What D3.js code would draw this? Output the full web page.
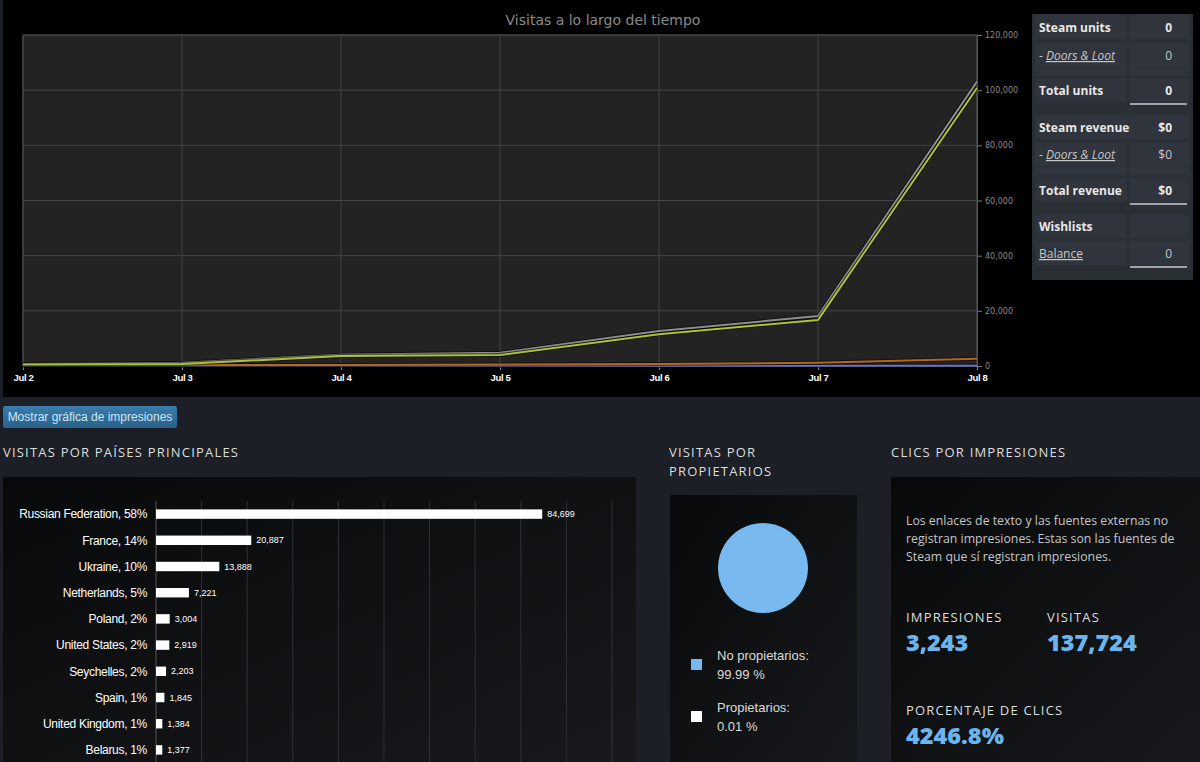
<!DOCTYPE html>
<html>
<head>
<meta charset="utf-8">
<script src="https://cdn.jsdelivr.net/npm/d3@7"></script>
<style>
  html, body { margin: 0; padding: 0; background: #1c1f25; }
  svg { display: block; }
</style>
</head>
<body>
<div id="chart"></div>
<script>
// --- data -------------------------------------------------------------
const days = ['Jul 2', 'Jul 3', 'Jul 4', 'Jul 5', 'Jul 6', 'Jul 7', 'Jul 8']
const yTicks = [0, 20000, 40000, 60000, 80000, 100000, 120000]
const visitsTotal = [700, 1200, 4100, 4800, 12700, 18100, 103100]
const visitsSteam = [500, 700, 3600, 4000, 11500, 16700, 100800]
const visitsOther = [400, 400, 400, 500, 700, 1200, 2600]
const visitsOwners = [50, 50, 50, 50, 50, 50, 100]

const countries = ['Russian Federation', 'France', 'Ukraine', 'Netherlands', 'Poland',
  'United States', 'Seychelles', 'Spain', 'United Kingdom', 'Belarus']
const countryPct = [58, 14, 10, 5, 2, 2, 2, 1, 1, 1]
const countryVisits = [84699, 20887, 13888, 7221, 3004, 2919, 2203, 1845, 1384, 1377]

const ownerLabels = ['No propietarios:', 'Propietarios:']
const ownerPct = [99.99, 0.01]

const tableRows = [
  ['Steam units', '0'], ['- Doors & Loot', '0'], ['', ''], ['Total units', '0'],
  ['Steam revenue', '$0'], ['- Doors & Loot', '$0'], ['', ''], ['Total revenue', '$0'],
  ['Wishlists', ''], ['Balance', '0']
]

const impressions = 3243
const visits = 137724

// --- page ---------------------------------------------------------------
const W = 1200, H = 762
const svg = d3.select('#chart').append('svg').attr('width', W).attr('height', H)
const defs = svg.append('defs')

let g1 = defs.append('linearGradient').attr('id', 'panel').attr('x1', 0).attr('y1', 0).attr('x2', 1).attr('y2', 1)
g1.append('stop').attr('offset', 0).attr('stop-color', '#08090a')
g1.append('stop').attr('offset', 1).attr('stop-color', '#17191c')
let g2 = defs.append('linearGradient').attr('id', 'btn').attr('x1', 0).attr('y1', 0).attr('x2', 0).attr('y2', 1)
g2.append('stop').attr('offset', 0).attr('stop-color', '#3a7cab')
g2.append('stop').attr('offset', 1).attr('stop-color', '#2a6189')

svg.append('rect').attr('width', W).attr('height', H).attr('fill', '#1c1f25')
svg.append('rect').attr('x', 3).attr('y', 0).attr('width', W - 3).attr('height', 397).attr('fill', '#000')

// --- line chart -------------------------------------------------------
const x = d3.scalePoint().domain(days).range([23, 977])
const y = d3.scaleLinear().domain([0, 120000]).range([366, 35])

svg.append('rect').attr('x', 23).attr('y', 35).attr('width', 954).attr('height', 331)
  .attr('fill', '#232323').attr('stroke', '#505050')

svg.append('g').selectAll('line').data(yTicks).join('line')
  .attr('x1', 23).attr('x2', 977).attr('y1', d => y(d)).attr('y2', d => y(d))
  .attr('stroke', '#454545')
svg.append('g').selectAll('line').data(days).join('line')
  .attr('x1', d => x(d)).attr('x2', d => x(d)).attr('y1', 35).attr('y2', 366)
  .attr('stroke', '#454545')

const yAxis = svg.append('g').attr('transform', 'translate(977,0)')
  .call(d3.axisRight(y).tickValues(yTicks).tickSize(5).tickFormat(d3.format(',')))
yAxis.select('.domain').attr('stroke', '#555')
yAxis.selectAll('line').attr('stroke', '#777')
yAxis.selectAll('text').attr('fill', '#8a8a8a').attr('font-size', 8)
  .attr('font-family', 'Verdana, DejaVu Sans, sans-serif').attr('x', 8)

const xAxis = svg.append('g').attr('transform', 'translate(0,366)')
  .call(d3.axisBottom(x).tickSize(4))
xAxis.select('.domain').remove()
xAxis.selectAll('line').attr('stroke', '#888')
xAxis.selectAll('text').attr('fill', '#fff').attr('font-size', 9.5).attr('font-weight', 'bold')
  .attr('letter-spacing', -0.3)
  .attr('font-family', 'Liberation Sans, Arial, sans-serif').attr('dy', '0.85em')

svg.append('text').attr('x', 603).attr('y', 25).attr('text-anchor', 'middle')
  .attr('fill', '#8a8a8a').attr('font-size', 14)
  .attr('font-family', 'DejaVu Sans, sans-serif')
  .text('Visitas a lo largo del tiempo')

const line = d3.line().x((d, i) => x(days[i])).y(d => y(d))
const series = [
  [visitsOwners, '#6b74c9'],
  [visitsOther, '#b8661c'],
  [visitsTotal, '#8d8d8d'],
  [visitsSteam, '#a9c52f']
]
series.forEach(([vals, col]) => {
  svg.append('path').datum(vals).attr('d', line).attr('fill', 'none')
    .attr('stroke', '#000').attr('stroke-opacity', 0.5).attr('stroke-width', 4)
  svg.append('path').datum(vals).attr('d', line).attr('fill', 'none')
    .attr('stroke', col).attr('stroke-width', 2)
})

// --- summary table ------------------------------------------------------
const tbl = svg.append('g')
tbl.append('rect').attr('x', 1032).attr('y', 14).attr('width', 161).attr('height', 266).attr('fill', '#2a2e35')
const rowY = [28, 56, 73, 91, 128, 155, 172, 191, 227, 254]
const rowH = [24, 24, 8, 24, 24, 24, 8, 24, 24, 24]
tableRows.forEach((r, i) => {
  tbl.append('rect').attr('x', 1035).attr('y', rowY[i] - rowH[i] / 2 - 1).attr('width', 92).attr('height', rowH[i])
    .attr('fill', '#30343c')
  tbl.append('rect').attr('x', 1129).attr('y', rowY[i] - rowH[i] / 2 - 1).attr('width', 60).attr('height', rowH[i])
    .attr('fill', '#30343c')
  if (!r[0]) return
  const sub = r[0].startsWith('- ')
  const link = r[0] === 'Balance'
  const t = tbl.append('text').attr('x', 1039).attr('y', rowY[i] + 4)
    .attr('font-family', 'Open Sans, sans-serif').attr('font-size', 12)
  if (sub) {
    t.attr('fill', '#c8c8c8').text('- ')
    t.append('tspan').attr('font-style', 'italic').attr('text-decoration', 'underline').text(r[0].slice(2))
  } else if (link) {
    t.attr('fill', '#c8c8c8').attr('text-decoration', 'underline').text(r[0])
  } else {
    t.attr('fill', '#e8e8e8').attr('font-weight', 'bold').text(r[0])
  }
  tbl.append('text').attr('x', 1172).attr('y', rowY[i] + 4).attr('text-anchor', 'end')
    .attr('font-family', 'Open Sans, sans-serif').attr('font-size', 12)
    .attr('font-weight', (sub || link) ? 'normal' : 'bold')
    .attr('fill', (sub || link) ? '#c8c8c8' : '#e8e8e8').text(r[1])
  if (r[0].startsWith('Total') || link) {
    tbl.append('line').attr('x1', 1130).attr('x2', 1187).attr('y1', rowY[i] + 13).attr('y2', rowY[i] + 13)
      .attr('stroke', '#c8ccd2').attr('stroke-width', 1.5)
  }
})

// --- button & headings --------------------------------------------------
svg.append('rect').attr('x', 3).attr('y', 406).attr('width', 174).attr('height', 22).attr('rx', 2)
  .attr('fill', 'url(#btn)')
svg.append('text').attr('x', 90).attr('y', 421).attr('text-anchor', 'middle')
  .attr('fill', '#cfe6f7').attr('font-size', 12)
  .attr('font-family', 'Liberation Sans, Arial, sans-serif').text('Mostrar gráfica de impresiones')

const heads = [[3, 457, 'VISITAS POR PAÍSES PRINCIPALES'], [669, 457, 'VISITAS POR'],
  [669, 476, 'PROPIETARIOS'], [891, 457, 'CLICS POR IMPRESIONES']]
svg.append('g').selectAll('text').data(heads).join('text')
  .attr('x', d => d[0]).attr('y', d => d[1]).text(d => d[2])
  .attr('fill', '#dcdedf').attr('font-size', 13).attr('letter-spacing', 1.2)
  .attr('font-family', 'Open Sans, sans-serif')

// --- countries bar chart ------------------------------------------------
svg.append('rect').attr('x', 3).attr('y', 477).attr('width', 633).attr('height', 285).attr('fill', 'url(#panel)')
const bx = d3.scaleLinear().domain([0, 100000]).range([156, 612])
const by = d3.scaleBand().domain(countries).range([501, 763]).paddingInner(0.64).paddingOuter(0.32)

svg.append('g').selectAll('line').data(bx.ticks(10)).join('line')
  .attr('x1', d => bx(d)).attr('x2', d => bx(d)).attr('y1', 501).attr('y2', 762)
  .attr('stroke', d => d === 0 ? '#555' : '#2f3136')

svg.append('g').selectAll('rect').data(countryVisits).join('rect')
  .attr('x', bx(0)).attr('y', (d, i) => by(countries[i]))
  .attr('width', d => bx(d) - bx(0)).attr('height', by.bandwidth()).attr('fill', '#fff')

svg.append('g').selectAll('text').data(countries).join('text')
  .attr('x', 147).attr('y', d => by(d) + by.bandwidth() / 2).attr('dy', '0.35em')
  .attr('text-anchor', 'end').attr('fill', '#fff').attr('font-size', 12)
  .attr('letter-spacing', -0.3)
  .attr('font-family', 'Liberation Sans, Arial, sans-serif')
  .text((d, i) => `${d}, ${countryPct[i]}%`)

svg.append('g').selectAll('text').data(countryVisits).join('text')
  .attr('x', d => bx(d) + 5).attr('y', (d, i) => by(countries[i]) + by.bandwidth() / 2).attr('dy', '0.35em')
  .attr('fill', '#fff').attr('font-size', 9)
  .attr('font-family', 'Liberation Sans, Arial, sans-serif')
  .text(d => d3.format(',')(d))

// --- owners pie -------------------------------------------------------
svg.append('rect').attr('x', 670).attr('y', 495).attr('width', 187).attr('height', 267).attr('fill', 'url(#panel)')
const pieCol = ['#78b9ef', '#ffffff']
const arcs = d3.pie().sort(null)(ownerPct)
svg.append('g').attr('transform', 'translate(763,568)')
  .selectAll('path').data(arcs).join('path')
  .attr('d', d3.arc().innerRadius(0).outerRadius(45))
  .attr('fill', (d, i) => pieCol[i])

const leg = svg.append('g').selectAll('g').data(ownerLabels).join('g')
  .attr('transform', (d, i) => `translate(0,${i * 52})`)
leg.append('rect').attr('x', 691).attr('y', 659).attr('width', 11).attr('height', 11)
  .attr('fill', (d, i) => pieCol[i])
leg.append('text').attr('x', 717).attr('y', 660).attr('fill', '#ddd').attr('font-size', 13)
  .attr('font-family', 'Liberation Sans, Arial, sans-serif').text(d => d)
leg.append('text').attr('x', 717).attr('y', 679).attr('fill', '#ddd').attr('font-size', 13)
  .attr('font-family', 'Liberation Sans, Arial, sans-serif').text((d, i) => ownerPct[i] + ' %')

// --- clicks by impressions ------------------------------------------------
svg.append('rect').attr('x', 891).attr('y', 477).attr('width', 309).attr('height', 285).attr('fill', 'url(#panel)')
const para = ['Los enlaces de texto y las fuentes externas no',
  'registran impresiones. Estas son las fuentes de',
  'Steam que sí registran impresiones.']
svg.append('g').selectAll('text').data(para).join('text')
  .attr('x', 906).attr('y', (d, i) => 525 + i * 18).text(d => d)
  .attr('fill', '#c4c6c8').attr('font-size', 12.3).attr('font-family', 'Open Sans, sans-serif')

const stats = [[906, 622, 'IMPRESIONES', d3.format(',')(impressions)],
  [1047, 622, 'VISITAS', d3.format(',')(visits)],
  [906, 715, 'PORCENTAJE DE CLICS', (visits / impressions * 100).toFixed(1) + '%']]
stats.forEach(s => {
  svg.append('text').attr('x', s[0]).attr('y', s[1]).text(s[2])
    .attr('fill', '#dcdedf').attr('font-size', 13).attr('letter-spacing', 1.2)
    .attr('font-family', 'Open Sans, sans-serif')
  svg.append('text').attr('x', s[0]).attr('y', s[1] + 29).text(s[3])
    .attr('fill', '#6ab5f0').attr('font-size', 23.5).attr('font-weight', 800)
    .attr('font-family', 'Open Sans, sans-serif')
})
</script>
</body>
</html>
